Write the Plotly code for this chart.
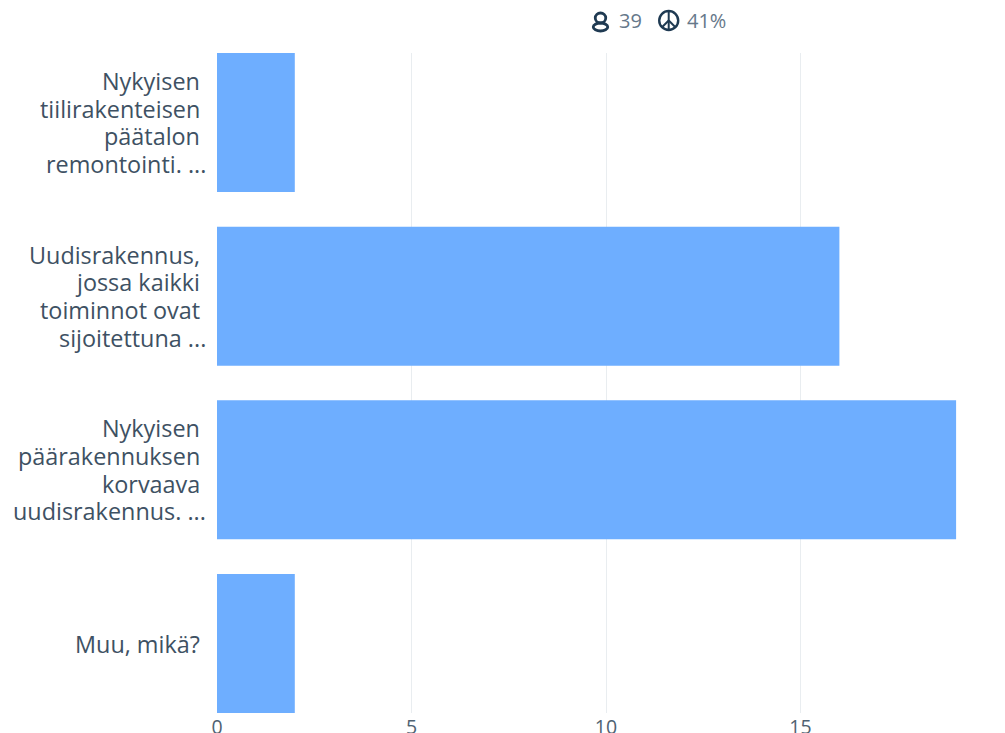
import plotly.graph_objects as go

category_lines = [
    ["Nykyisen\u00a0", "tiilirakenteisen\u00a0", "päätalon\u00a0", "remontointi. ..."],
    ["Uudisrakennus,\u00a0", "jossa kaikki\u00a0", "toiminnot ovat\u00a0", "sijoitettuna ..."],
    ["Nykyisen\u00a0", "päärakennuksen\u00a0", "korvaava\u00a0", "uudisrakennus. ..."],
    ["Muu, mikä?\u00a0"],
]
categories = [" ".join(c) for c in category_lines]
values = [2, 16, 19, 2]
x_ticks = [0, 5, 10, 15, 20]
respondents = "39"
response_rate = "41%"

W, H = 1005, 733
L, R, T, B = 216.5, 10, 53, 20
FONT = "Open Sans"
DARK = "#1f3a52"
LINE_PITCH = 27.7

fig = go.Figure(go.Bar(
    y=categories, x=values, orientation="h",
    marker=dict(color="#6eaeff", line=dict(width=0)),
    width=0.8,
))

def px(x): return (x - L) / (W - L - R)
def py(y): return 1 - (y - T) / (H - T - B)

def shape(kind, x0, y0, x1, y1, w=2.4):
    return dict(type=kind, xref="paper", yref="paper",
                x0=px(x0), x1=px(x1), y0=py(y0), y1=py(y1),
                line=dict(color=DARK, width=w), layer="above")

shapes = [
    shape("circle", 595, 13, 605.5, 23, 2.8),
    shape("circle", 593, 23, 607.5, 31, 2.8),
    shape("circle", 659, 11, 678, 30, 2.4),
    shape("line", 668.5, 11, 668.5, 30, 2),
    shape("line", 668.5, 20.5, 661.5, 27.5, 2),
    shape("line", 668.5, 20.5, 675.5, 27.5, 2),
]

def label(text, x, y):
    return dict(text=text, xref="paper", yref="paper", x=px(x), y=py(y),
                xanchor="left", yanchor="middle", showarrow=False,
                font=dict(family=FONT, size=20, color="#66788a"))

annotations = [label(respondents, 617, 21), label(response_rate, 685, 21)]
for name, lines in zip(categories, category_lines):
    n = len(lines)
    for i, line in enumerate(lines):
        annotations.append(dict(
            text=line, xref="paper", yref="y", x=px(207.5), y=name,
            xanchor="right", yanchor="middle", showarrow=False,
            yshift=-(i - (n - 1) / 2) * LINE_PITCH,
            font=dict(family=FONT, size=23.4, color="#3e5163"),
        ))

fig.update_layout(
    template=None,
    width=W, height=H, autosize=False,
    margin=dict(l=L, r=R, t=T, b=B, pad=0),
    paper_bgcolor="white", plot_bgcolor="white",
    showlegend=False, shapes=shapes, annotations=annotations,
    xaxis=dict(range=[0, 20], tickvals=x_ticks, showgrid=True, gridcolor="#e9edf0",
               gridwidth=1, zeroline=False, showline=False, ticks="", automargin=False,
               tickfont=dict(family=FONT, size=19.5, color="#4f6272")),
    yaxis=dict(range=[3.4, -0.4], showgrid=False, zeroline=False, showline=False,
               showticklabels=False, ticks="", automargin=False),
    bargap=0.2,
)
fig.write_html("out.html", config=dict(displayModeBar=False),
               post_script="document.body.style.margin='0';document.documentElement.style.overflow='hidden';")
